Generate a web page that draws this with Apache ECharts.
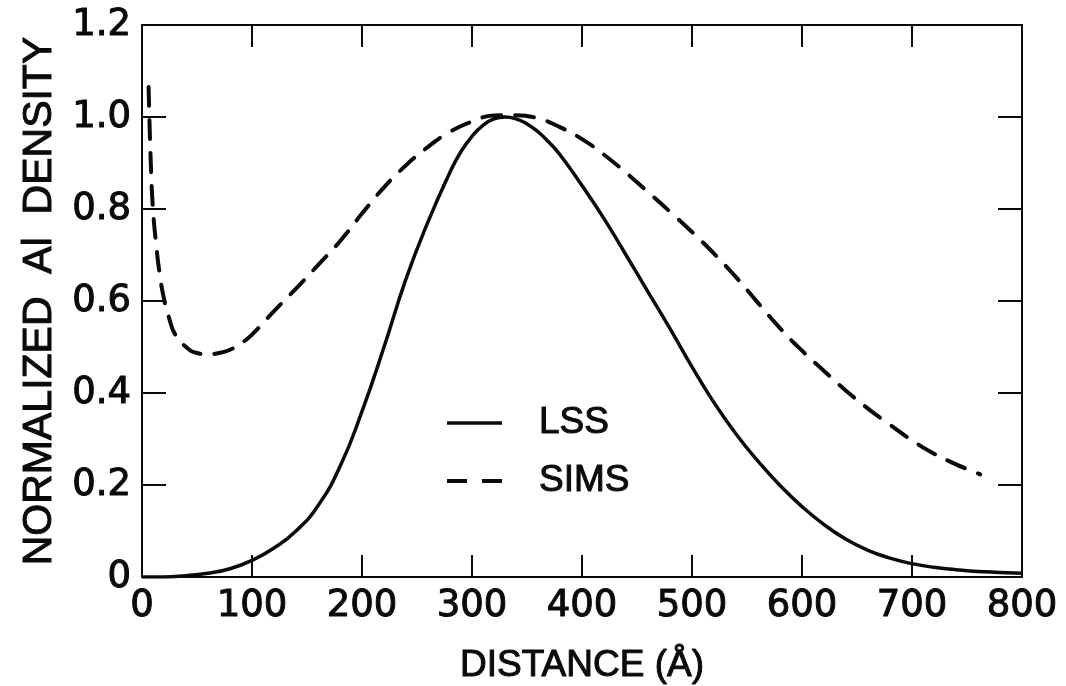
<!DOCTYPE html>
<html>
<head>
<meta charset="utf-8">
<script src="https://cdn.jsdelivr.net/npm/echarts@6/dist/echarts.min.js"></script>
<style>
html,body{margin:0;padding:0;background:#fff;}
#chart{width:1066px;height:686px;}
</style>
</head>
<body>
<div id="chart"></div>
<script>
// Distance (Å) and normalized Al density
var lssX = [0,20,40,60,80,100,120,140,160,180,200,220,240,260,280,290,300,310,320,330,340,350,360,370,380,400,420,440,460,480,500,520,540,560,580,600,620,640,660,680,700,720,740,760,780,800];
var lssY = [0.0,0.0,0.003,0.008,0.018,0.036,0.063,0.10,0.155,0.24,0.36,0.50,0.648,0.772,0.88,0.925,0.958,0.982,0.996,1.0,0.996,0.985,0.968,0.945,0.918,0.851,0.779,0.70,0.62,0.54,0.457,0.379,0.311,0.252,0.199,0.153,0.114,0.082,0.058,0.041,0.029,0.021,0.016,0.012,0.01,0.008];

var simsX = [6,8,10,13,16,20,25,30,40,50,60,70,80,90,100,120,140,160,180,200,220,240,260,280,300,320,340,360,380,400,420,440,460,480,500,520,540,560,580,600,620,640,660,680,700,720,740,762];
var simsY = [1.065,0.90,0.80,0.72,0.66,0.605,0.56,0.528,0.50,0.487,0.484,0.487,0.494,0.508,0.527,0.578,0.627,0.678,0.73,0.79,0.847,0.895,0.935,0.968,0.99,1.003,1.004,0.997,0.978,0.952,0.918,0.879,0.837,0.794,0.75,0.703,0.652,0.596,0.541,0.492,0.448,0.405,0.366,0.331,0.297,0.268,0.245,0.223];

var xTicks = {min: 0, max: 800, interval: 100};
var yTicks = {min: 0, max: 1.2, interval: 0.2};

function pairs(xs, ys) { return xs.map(function (x, i) { return [x, ys[i]]; }); }

var numFont = 'DejaVu Sans';
var txtFont = 'Liberation Sans';
var ink = '#0a0a0a';

var chart = echarts.init(document.getElementById('chart'), null, {renderer: 'canvas'});
function line() { return {show: true, onZero: false, lineStyle: {color: ink, width: 2}}; }
function ticks(len) { return {show: true, inside: true, length: len, lineStyle: {color: ink, width: 2}}; }
var heavy = {textBorderColor: ink, textBorderWidth: 1};
var hiddenSymbol = {color: 'rgba(0,0,0,0)', borderWidth: 0, opacity: 0};
chart.setOption({
  animation: false,
  backgroundColor: '#ffffff',
  color: [ink, ink],
  grid: {left: 142, right: 44, top: 25, bottom: 109, outerBoundsMode: 'none', containLabel: false},
  legend: {
    orient: 'vertical',
    left: 445,
    top: 404,
    padding: 0,
    itemWidth: 55,
    itemHeight: 14,
    itemGap: 20,
    itemStyle: hiddenSymbol,
    textStyle: Object.assign({fontFamily: txtFont, fontSize: 37, color: ink, padding: [0, 0, 0, 32]}, heavy),
    data: [
      {name: 'LSS', itemStyle: hiddenSymbol, lineStyle: {color: ink, width: 3.5, type: 'solid'}},
      {name: 'SIMS', itemStyle: hiddenSymbol, lineStyle: {color: ink, width: 4, type: [20, 15], cap: 'butt'}}
    ]
  },
  xAxis: [{
    type: 'value', min: xTicks.min, max: xTicks.max, interval: xTicks.interval,
    name: 'DISTANCE (Å)', nameLocation: 'middle', nameGap: 70,
    nameTextStyle: Object.assign({fontFamily: txtFont, fontSize: 37, color: ink}, heavy),
    axisLine: line(),
    axisTick: ticks(22),
    axisLabel: Object.assign({fontFamily: numFont, fontSize: 37, color: ink, margin: 11}, heavy),
    splitLine: {show: false}
  }, {
    type: 'value', position: 'top', min: xTicks.min, max: xTicks.max, interval: xTicks.interval,
    axisLine: line(),
    axisTick: ticks(22),
    axisLabel: {show: false},
    splitLine: {show: false}
  }],
  yAxis: [{
    type: 'value', position: 'left', min: yTicks.min, max: yTicks.max, interval: yTicks.interval,
    name: 'NORMALIZED  Al  DENSITY', nameLocation: 'middle', nameGap: 77,
    nameTextStyle: Object.assign({fontFamily: txtFont, fontSize: 41, color: ink}, heavy),
    axisLine: line(),
    axisTick: ticks(24),
    axisLabel: Object.assign({fontFamily: numFont, fontSize: 37, color: ink, margin: 11,
      formatter: function (v) { return v === 0 ? '0' : v.toFixed(1); }}, heavy),
    splitLine: {show: false}
  }, {
    type: 'value', position: 'right', min: yTicks.min, max: yTicks.max, interval: yTicks.interval,
    axisLine: line(),
    axisTick: ticks(24),
    axisLabel: {show: false},
    splitLine: {show: false}
  }],
  series: [{
    name: 'LSS', type: 'line', xAxisIndex: 0, yAxisIndex: 0,
    data: pairs(lssX, lssY), smooth: 0.5, symbol: 'none',
    itemStyle: {color: ink},
    lineStyle: {color: ink, width: 3.5, type: 'solid'}
  }, {
    name: 'SIMS', type: 'line', xAxisIndex: 0, yAxisIndex: 0,
    data: pairs(simsX, simsY), smooth: 0.5, symbol: 'none',
    itemStyle: {color: ink},
    lineStyle: {color: ink, width: 4, type: [19, 14], cap: 'round'}
  }]
});
</script>
</body>
</html>
